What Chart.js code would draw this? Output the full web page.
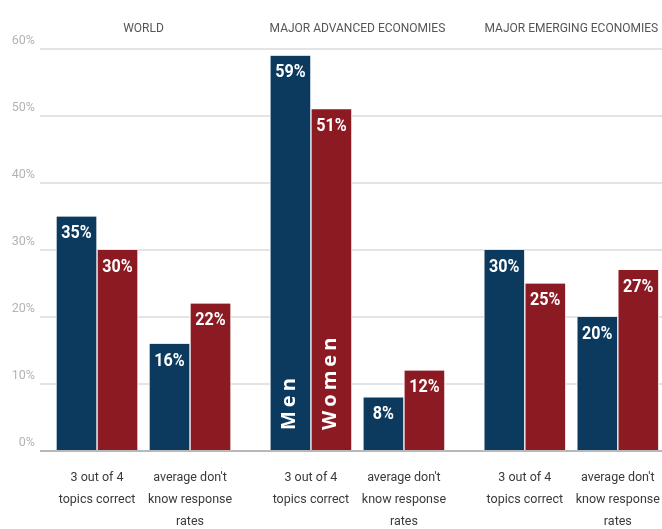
<!DOCTYPE html>
<html>
<head>
<meta charset="utf-8">
<script src="https://cdn.jsdelivr.net/npm/chart.js@4.4.1/dist/chart.umd.min.js"></script>
<style>
  html, body { margin: 0; padding: 0; background: #fff; }
  #wrap { width: 662px; height: 529px; position: relative; }
</style>
</head>
<body>
<div id="wrap"><canvas id="c"></canvas></div>
<script>
// data
const groups = ['WORLD', 'MAJOR ADVANCED ECONOMIES', 'MAJOR EMERGING ECONOMIES'];
const categories = [
  ['3 out of 4', 'topics correct'],
  ["average don't", 'know response', 'rates'],
];
const men   = [35, 16, 59, 8, 30, 20];
const women = [30, 22, 51, 12, 25, 27];
const yTicks = [0, 10, 20, 30, 40, 50, 60];

const COLORS = {
  men:   '#0c3a5f',
  women: '#8b1a23',
  grid:  '#e4e4e4',
  base:  '#b8b8b8',
  tick:  '#b3b3b3',
  label: '#3a3a3a',
  title: '#555555',
};
const NARROW = "Roboto, 'Liberation Sans', sans-serif";

// slot layout: two categories per group, wider gap between groups
const GROUP_STEP = 2.3;
const slot = i => Math.floor(i / 2) * GROUP_STEP + (i % 2);
const xs = men.map((_, i) => slot(i));
const groupCenters = groups.map((_, g) => g * GROUP_STEP + 0.5);
const X_MIN = -0.613, X_MAX = 6.075;

const noPad = s => { s.paddingLeft = 0; s.paddingRight = 0; s.paddingTop = 0; s.paddingBottom = 0; };

const valueLabels = {
  id: 'valueLabels',
  afterDatasetsDraw(chart) {
    const ctx = chart.ctx;
    ctx.save();
    ctx.fillStyle = '#fff';
    ctx.textAlign = 'center';
    ctx.textBaseline = 'middle';
    ctx.font = "bold 19px " + NARROW;
    chart.data.datasets.forEach((ds, di) => {
      chart.getDatasetMeta(di).data.forEach((bar, i) => {
        const v = ds.data[i].y;
        ctx.save();
        ctx.translate(bar.x, bar.y + 17);
        ctx.scale(0.85, 1);
        ctx.fillText(v + '%', 0, 0);
        ctx.restore();
      });
    });
    // series names written up the tallest pair
    const at = 2;
    ctx.font = "bold 20px 'Open Sans', sans-serif";
    ctx.textAlign = 'left';
    ctx.textBaseline = 'middle';
    if ('letterSpacing' in ctx) ctx.letterSpacing = '4px';
    chart.data.datasets.forEach((ds, di) => {
      const bar = chart.getDatasetMeta(di).data[at];
      ctx.save();
      ctx.translate(bar.x - 1, chart.chartArea.bottom - 21);
      ctx.rotate(-Math.PI / 2);
      ctx.fillText(ds.label, 0, 0);
      ctx.restore();
    });
    ctx.restore();
  }
};

new Chart(document.getElementById('c'), {
  type: 'bar',
  data: {
    datasets: [
      { label: 'Men',   data: men.map((v, i) => ({ x: xs[i], y: v })),   backgroundColor: COLORS.men },
      { label: 'Women', data: women.map((v, i) => ({ x: xs[i], y: v })), backgroundColor: COLORS.women },
    ].map(d => ({
      ...d,
      barThickness: 41,
      borderColor: '#fff',
      borderWidth: { left: 1, right: 1, top: 0, bottom: 0 },
      borderSkipped: false,
    })),
  },
  options: {
    responsive: true,
    maintainAspectRatio: false,
    animation: false,
    layout: { padding: 0 },
    plugins: { legend: { display: false }, tooltip: { enabled: false } },
    scales: {
      x: {
        type: 'linear',
        position: 'bottom',
        offset: false,
        min: X_MIN, max: X_MAX,
        grid: { display: false },
        border: { display: false },
        afterBuildTicks: s => { s.ticks = xs.map(v => ({ value: v })); },
        afterFit: s => { s.height = 78; noPad(s); },
        ticks: {
          autoSkip: false, maxRotation: 0, padding: 8,
          color: COLORS.label,
          font: { family: NARROW, size: 12.5, lineHeight: 1.76 },
          callback: (v, i) => categories[i % 2],
        },
      },
      xTop: {
        type: 'linear',
        position: 'top',
        offset: false,
        min: X_MIN, max: X_MAX,
        grid: { display: false },
        border: { display: false },
        afterBuildTicks: s => { s.ticks = groupCenters.map(v => ({ value: v })); },
        afterFit: s => { s.height = 49; noPad(s); },
        ticks: {
          autoSkip: false, maxRotation: 0, padding: 5,
          color: COLORS.title,
          font: { family: NARROW, size: 12 },
          callback: (v, i) => groups[i],
        },
      },
      y: {
        min: 0, max: 60,
        afterBuildTicks: s => { s.ticks = yTicks.map(v => ({ value: v })); },
        afterFit: s => { s.width = 40; noPad(s); },
        border: { display: false },
        grid: {
          drawTicks: false,
          lineWidth: 2,
          color: c => c.tick.value === 0 ? COLORS.base : COLORS.grid,
        },
        ticks: {
          padding: 5,
          labelOffset: -8,
          color: COLORS.tick,
          font: { family: NARROW, size: 12.5 },
          callback: v => v + '%',
        },
      },
    },
  },
  plugins: [valueLabels],
});
</script>
</body>
</html>
